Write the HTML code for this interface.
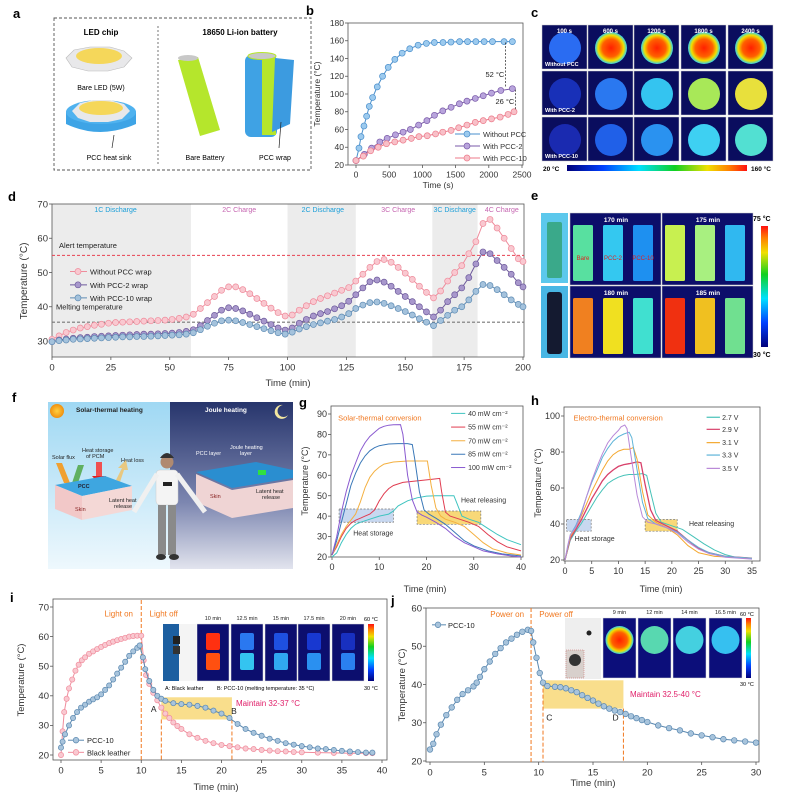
<!DOCTYPE html>
<html><head><meta charset="utf-8">
<style>
html,body{margin:0;padding:0;background:#fff;}
svg{display:block;font-family:"Liberation Sans",sans-serif;}
</style></head>
<body>
<svg id="fig" width="789" height="798" viewBox="0 0 789 798" xmlns="http://www.w3.org/2000/svg">
<defs>
<linearGradient id="cbarH" x1="0" x2="1" y1="0" y2="0">
<stop offset="0" stop-color="#00007a"/><stop offset="0.2" stop-color="#0040ff"/><stop offset="0.4" stop-color="#00e0ff"/><stop offset="0.6" stop-color="#10d020"/><stop offset="0.78" stop-color="#f0e000"/><stop offset="0.9" stop-color="#ff8000"/><stop offset="1" stop-color="#ff1010"/>
</linearGradient>
<linearGradient id="cbarV" x1="0" x2="0" y1="1" y2="0">
<stop offset="0" stop-color="#00007a"/><stop offset="0.2" stop-color="#0040ff"/><stop offset="0.4" stop-color="#00e0ff"/><stop offset="0.6" stop-color="#10d020"/><stop offset="0.78" stop-color="#f0e000"/><stop offset="0.9" stop-color="#ff8000"/><stop offset="1" stop-color="#ff1010"/>
</linearGradient>
<linearGradient id="day" x1="0" x2="0" y1="0" y2="1"><stop offset="0" stop-color="#9fd8f3"/><stop offset="1" stop-color="#eef8fd"/></linearGradient>
<linearGradient id="night" x1="0" x2="0" y1="0" y2="1"><stop offset="0" stop-color="#27356c"/><stop offset="0.6" stop-color="#7c86b0"/><stop offset="1" stop-color="#e2e4ee"/></linearGradient>
<radialGradient id="hotspot"><stop offset="0" stop-color="#ff2000"/><stop offset="0.55" stop-color="#ff6000"/><stop offset="0.8" stop-color="#f0e000"/><stop offset="1" stop-color="#30d0f0"/></radialGradient>
<radialGradient id="sun"><stop offset="0" stop-color="#ffd040"/><stop offset="1" stop-color="#f09010"/></radialGradient>
</defs>

<!-- PANEL A -->
<g>
<text x="13" y="18" font-size="13" font-weight="bold">a</text>
<rect x="54" y="18" width="257" height="152" fill="none" stroke="#555" stroke-dasharray="3,2" stroke-width="0.9"/>
<line x1="158" y1="26" x2="158" y2="164" stroke="#555" stroke-dasharray="2,2" stroke-width="0.8"/>
<text x="101" y="35" font-size="8" font-weight="bold" text-anchor="middle">LED chip</text>
<text x="240" y="35" font-size="8" font-weight="bold" text-anchor="middle">18650 Li-ion battery</text>
<g>
<polygon points="66,58 74,50 90,47 110,47 124,51 132,58 124,67 108,71 88,71 72,67" fill="#e8e8ea" stroke="#bbb" stroke-width="0.6"/>
<ellipse cx="99" cy="56" rx="23" ry="8" fill="#f5d75a"/>
</g>
<text x="101" y="90" font-size="7" text-anchor="middle">Bare LED (5W)</text>
<g>
<path d="M66,112 L66,124 Q100,140 136,124 L136,112 Z" fill="#3ea4e6"/>
<ellipse cx="101" cy="112" rx="35" ry="12" fill="#4fb2ef"/>
<polygon points="72,111 80,103 94,100 110,100 124,104 130,111 122,119 108,122 90,122 78,118" fill="#e8e8ea"/>
<ellipse cx="101" cy="108" rx="22" ry="7" fill="#f5d75a"/>
</g>
<line x1="112" y1="148" x2="114" y2="135" stroke="#222" stroke-width="0.7"/>
<text x="109" y="160" font-size="7" text-anchor="middle">PCC heat sink</text>
<g>
<path d="M178,60 L198,57 L220,130 L200,136 Z" fill="#b5e62c"/>
<ellipse cx="188" cy="58" rx="10" ry="3" fill="#c8c8c8"/>
</g>
<text x="205" y="160" font-size="7" text-anchor="middle">Bare Battery</text>
<g>
<rect x="245" y="55" width="32" height="82" rx="6" fill="#3fa2e4"/>
<rect x="262" y="55" width="14" height="80" fill="#b5e62c"/>
<path d="M275,58 L294,60 L290,124 L272,132 Z" fill="#3c9be0"/>
<ellipse cx="262" cy="56" rx="14" ry="3.5" fill="#c8c8c8" stroke="#b5e62c"/>
</g>
<line x1="279" y1="148" x2="281" y2="122" stroke="#222" stroke-width="0.7"/>
<text x="275" y="160" font-size="7" text-anchor="middle">PCC wrap</text>
</g>

<!-- PANEL C -->
<g id="panelC">
<text x="531" y="17" font-size="13" font-weight="bold">c</text>
<rect x="567" y="165" width="180" height="6" fill="url(#cbarH)"/>
<text x="543" y="171" font-size="6.5" font-weight="bold">20 °C</text>
<text x="751" y="171" font-size="6.5" font-weight="bold">160 °C</text>
</g>

<!-- PANEL E -->
<g id="panelE">
<text x="531" y="200" font-size="13" font-weight="bold">e</text>
<rect x="541" y="213" width="27" height="70" fill="#5cc8ec"/>
<rect x="547" y="222" width="15" height="56" rx="2" fill="#3aa98a"/>
<rect x="541" y="286" width="27" height="72" fill="#48b6e4"/>
<rect x="547" y="292" width="15" height="62" rx="3" fill="#141a30"/>
<rect x="761" y="226" width="7" height="121" fill="url(#cbarV)"/>
<text x="753" y="221" font-size="7" font-weight="bold">75 °C</text>
<text x="753" y="357" font-size="7" font-weight="bold">30 °C</text>
</g>

<!-- PANEL F -->
<g>
<text x="12" y="402" font-size="13" font-weight="bold">f</text>
<rect x="48" y="402" width="122" height="167" fill="url(#day)"/>
<rect x="170" y="402" width="123" height="167" fill="url(#night)"/>
<circle cx="57" cy="411" r="7" fill="url(#sun)"/>
<text x="76" y="412" font-size="6.5" font-weight="bold" fill="#222">Solar-thermal heating</text>
<text x="205" y="412" font-size="6.5" font-weight="bold" fill="#fff">Joule heating</text>
<path d="M283,405 a7,7 0 1 0 5,10 a6,6 0 1 1 -5,-10 Z" fill="#f3e7a0"/>
<text x="82" y="452" font-size="5.5" fill="#222">Heat storage</text>
<text x="86" y="458" font-size="5.5" fill="#222">of PCM</text>
<text x="52" y="459" font-size="5.5" fill="#222">Solar flux</text>
<text x="121" y="462" font-size="5.5" fill="#222">Heat loss</text>
<polygon points="56,463 62,463 70,483 64,483" fill="#f0a030"/>
<polygon points="72,483 78,483 84,465 78,465" fill="#60b060"/>
<rect x="96" y="462" width="6" height="14" fill="#f05050"/>
<polygon points="92,476 106,476 99,484" fill="#e02020"/>
<polygon points="116,480 122,468 118,468 126,460 128,470 124,470 120,482" fill="#e8c880"/>
<polygon points="55,485 105,476 132,486 82,496" fill="#3ea6e0"/>
<polygon points="55,485 82,496 82,520 55,509" fill="#f2c8c8"/>
<polygon points="82,496 132,486 132,510 82,520" fill="#f4d8d6"/>
<text x="78" y="488" font-size="5.5" font-weight="bold" fill="#223">PCC</text>
<text x="75" y="511" font-size="5.5" fill="#822">Skin</text>
<text x="109" y="502" font-size="5.5" fill="#222">Latent heat</text>
<text x="114" y="508" font-size="5.5" fill="#222">release</text>
<text x="196" y="455" font-size="5.5" fill="#fff">PCC layer</text>
<text x="230" y="449" font-size="5.5" fill="#fff">Joule heating</text>
<text x="240" y="455" font-size="5.5" fill="#fff">layer</text>
<polygon points="196,472 256,462 293,470 293,478 232,488" fill="#2a8ed0"/>
<rect x="258" y="470" width="8" height="5" fill="#30e040"/>
<polygon points="196,474 232,490 293,480 293,508 232,518 196,502" fill="#efd4d4"/>
<text x="210" y="498" font-size="5.5" fill="#822">Skin</text>
<text x="256" y="493" font-size="5.5" fill="#222">Latent heat</text>
<text x="262" y="499" font-size="5.5" fill="#222">release</text>
<g>
<circle cx="167" cy="462" r="6.5" fill="#b08a70"/>
<path d="M160,458 q7,-10 14,0 z" fill="#333"/>
<rect x="156" y="470" width="22" height="35" rx="4" fill="#f4f4f4" stroke="#ccc" stroke-width="0.5"/>
<rect x="163" y="482" width="9" height="4" fill="#222"/>
<line x1="157" y1="474" x2="134" y2="512" stroke="#f0f0f0" stroke-width="5"/>
<line x1="177" y1="474" x2="205" y2="512" stroke="#f0f0f0" stroke-width="5"/>
<rect x="158" y="505" width="8" height="50" fill="#8a8a8a"/>
<rect x="168" y="505" width="8" height="50" fill="#8a8a8a"/>
<ellipse cx="161" cy="557" rx="5" ry="3" fill="#333"/>
<ellipse cx="174" cy="557" rx="5" ry="3" fill="#333"/>
</g>
</g>

<!-- INSET I -->
<g>
<rect x="163" y="624" width="33" height="57" fill="#f4f4f4"/>
<rect x="163" y="624" width="16" height="57" fill="#1d5fa0"/>
<rect x="173" y="636" width="7" height="8" fill="#222"/>
<rect x="173" y="646" width="7" height="8" fill="#333"/>
<rect x="368" y="624" width="6" height="57" fill="url(#cbarV)"/>
<text x="364" y="621" font-size="5.5">60 °C</text>
<text x="364" y="690" font-size="5.5">30 °C</text>
<text x="165" y="690" font-size="5.5">A: Black leather</text>
<text x="217" y="690" font-size="5.5">B: PCC-10 (melting temperature: 35 °C)</text>
</g>
<!-- INSET J -->
<g>
<rect x="565" y="618" width="36" height="61" fill="#eeeeee"/>
<rect x="566" y="650" width="18" height="28" fill="#d8d0cc" stroke="#c66" stroke-dasharray="1,1" stroke-width="0.5"/>
<circle cx="575" cy="660" r="6" fill="#333"/>
<circle cx="589" cy="633" r="2.5" fill="#222"/>
<rect x="746" y="618" width="5" height="60" fill="url(#cbarV)"/>
<text x="740" y="616" font-size="5.5">60 °C</text>
<text x="740" y="686" font-size="5.5">30 °C</text>
</g>
</svg>

<script>
// ---------- Panel b data ----------
const bTimeWithout = [0,45,75,120,160,200,250,320,400,485,585,695,810,935,1060,1180,1310,1430,1560,1680,1805,1930,2055,2230,2355];
const bTempWithout = [25,39,52,64,75,86,96,108,120,130,139,146,151,155,157,158,158,158.5,159,159,159,159,159,159,159];
const bTimePCC2 = [0,125,235,359,469,594,709,818,943,1068,1182,1307,1432,1557,1671,1796,1916,2041,2181,2355];
const bTempPCC2 = [25,32,39,46,50,54,57,60,65,70,76,81,85,89,92,95,98,101,104,106];
const bTimePCC10 = [0,110,220,334,459,584,709,833,948,1073,1198,1307,1432,1547,1671,1796,1916,2041,2171,2290,2380];
const bTempPCC10 = [25,30,36,40,44,46,48,50,52,53,55,57,59,62,65,68,70,72,74,77,80];
const bXTicks = [0,500,1000,1500,2000,2500];
const bYTicks = [20,40,60,80,100,120,140,160,180];

// ---------- Panel d data ----------
const dTime = [0,3,6,9,12,15,18,21,24,27,30,33,36,39,42,45,48,51,54,57,60,63,66,69,72,75,78,81,84,87,90,93,96,99,102,105,108,111,114,117,120,123,126,129,132,135,138,141,144,147,150,153,156,159,162,165,168,171,174,177,180,183,186,189,192,195,198,200];
const dWithout = [30.5,31.5,32.5,33.2,33.8,34.2,34.6,34.9,35.2,35.4,35.5,35.6,35.7,35.8,35.9,36.0,36.1,36.3,36.6,37.0,37.8,39.5,41.2,43,44.8,45.8,45.8,45,43.8,42.4,41,39.6,38.3,37.3,37.6,39,40.3,41.5,42.4,43.2,44,44.8,45.6,47.5,49.5,51.5,53.2,53.8,53,51.5,49.8,48,46,44.2,42.6,44.6,47.5,50,52,55.5,59,64.3,65.5,63,60,57,54,53.2];
const dPCC2 = [29.8,30.3,30.6,30.8,31,31.1,31.3,31.4,31.5,31.6,31.7,31.8,31.9,32,32,32.1,32.2,32.3,32.5,32.8,33.3,34.5,36,37.5,39,39.7,39.5,38.8,37.8,36.8,35.8,34.8,33.8,33.2,33.8,35.2,36.3,37.3,38,38.6,39.4,40.3,41.6,43.5,45.5,47.3,47.8,47.2,46,44.5,43,41.5,40,38.5,37,39,41.5,43.5,45.5,48.5,52.5,56,55.5,53.5,51.5,49.5,47,45.8];
const dPCC10 = [29.8,30.1,30.3,30.5,30.6,30.7,30.8,30.9,31,31.1,31.2,31.2,31.3,31.3,31.4,31.5,31.6,31.7,31.8,32,32.4,33.3,34.3,35.2,35.9,36.1,35.9,35.4,34.8,34.2,33.6,33,32.4,32,32.6,33.5,34.2,34.8,35.3,35.8,36.3,37,38,39.5,40.5,41.2,41.4,41,40.3,39.5,38.6,37.6,36.5,35.5,34.5,36,37.5,39,40,42,44.5,46.5,46.2,45,43.5,42,40.7,40];
const dShadeStart = [0,100,161.5];
const dShadeEnd = [59,129,180.7];
const dPhaseLabels = ["1C Discharge","2C Charge","2C Discharge","3C Charge","3C Discharge","4C Charge"];
const dPhaseX = [27,79.5,115,147,171,191];
const dXTicks = [0,25,50,75,100,125,150,175,200];
const dYTicks = [30,40,50,60,70];
const dAlert = 55;
const dMelting = 35.5;

// ---------- Panel g data ----------
const gT100 = [0,1,2,3,4,5,6,7,8,9,10,11,12,13,14.5,15,16,17,18,19,20,22,24,26,28,30,32,35,38,40];
const gV100 = [21,30,42,52,60,66,72,76,79,81,83,84,84.5,84.7,84.8,80,60,48,42,40.5,39.5,37,34,30,27,25,23,21.5,20.5,20];
const gT85 = [0,1,2,3,4,5,6,7,8,9,10,12,14,16,17,17.5,18.5,19.5,20.5,22,24,26,28,30,33,36,40];
const gV85 = [21,28,37,46,55,61,66,69.5,72,73.5,74.5,75.3,75.5,75.5,75,68,52,43,41,39,36,32,28,25.5,23,21.5,20.5];
const gT70 = [0,1,2,3,4,5,6,7,8,9,10,11,13,16,19,20.2,21,22,23,24,26,28,30,32,34,37,40];
const gV70 = [21,26,31,35,38,41,47,54,59,62,64,65.5,66.5,67,67,67,55,44,40,38.5,37,35,31,27,24,22,21];
const gT55 = [0,1,2,3,4,5,6,7,8,9,10,11,12,13,15,17,19,21,22.8,23.2,24,25,27,29,31,33,35,37,40];
const gV55 = [21,25,30,34,36.5,38,39,40,41,43,47.5,51,53.5,55,56.5,57,57.5,58,58.5,52,42,40,38.5,37,35,31,27.5,25,23];
const gT40 = [0,1,2,3,4,5,6,8,10,12,13,14,16,18,20,22,24,25.8,26.5,27.5,29,31,33,35,37,40];
const gV40 = [20,22,27,31,34,36,37,38.5,40,41,42.5,45,47.5,49,49.8,50,50,50,46,40,38.5,37,34,31,28.5,26];
const gLegend = ["40 mW cm⁻²","55 mW cm⁻²","70 mW cm⁻²","85 mW cm⁻²","100 mW cm⁻²"];
const gXTicks = [0,10,20,30,40];
const gYTicks = [20,30,40,50,60,70,80,90];

// ---------- Panel h data ----------
const hT35 = [0,0.5,1,2,3,4,5,6,7,8,9,10,10.5,11.2,11.6,12.5,13.5,14.5,15.5,17,19,21,23,25,27,30,35];
const hV35 = [20,28,34,38,45,55,64,72,79,85,89,92,94,95,93,75,56,44,41,40,38,35,30,26,23.5,21.5,20.5];
const hT33 = [0,1,2,3,4,5,6,7,8,9,10,11,12,12.5,13.5,14.5,15.5,17,19,21,23,25,27,30,35];
const hV33 = [20,34,39,46,55,63,70,77,82,86,88.5,90,91,88,70,52,43,40,38,35.5,31,27,24,22,21];
const hT31 = [0,1,2,3,4,5,6,7,8,9,10,11,12,12.8,13.5,14.5,15.5,17,19,21,23,25,28,35];
const hV31 = [20,33,38,44,51,58,64,70,75,78.5,80.5,81.5,81.5,82.5,76,58,45,41,38,34,28,24,22,21];
const hT29 = [0,1,2,3,4,5,6,7,8,9,10,11,12,13.5,14.2,15,16,17,19,21,23,25,27,30,35];
const hV29 = [20,32,37,42,48,54,59,64,67.5,70,72,73,73.5,74.5,74,62,48,42,39,36,31,26.5,24,22,21];
const hT27 = [0,1,2,3,4,5,6,7,8,9,10,11,12,13,14.5,15.3,16,17,18,20,22,24,26,28,30,32,35];
const hV27 = [20,31,36,40,45,50,55,59,62.5,64.5,66,67,67.5,67.5,68,67,58,46,41,39,37,33,29,25.5,23,21.5,21];
const hLegend = ["2.7 V","2.9 V","3.1 V","3.3 V","3.5 V"];
const hXTicks = [0,5,10,15,20,25,30,35];
const hYTicks = [20,40,60,80,100];

// ---------- Panel i data ----------
const iTimeLeather = [0,0.2,0.4,0.7,1,1.4,1.8,2.2,2.6,3,3.5,4,4.5,5,5.5,6,6.5,7,7.5,8,8.5,9,9.5,10,10.3,10.6,11,11.5,12,12.5,13,13.5,14,14.5,15,16,17,18,19,20,21,22,23,24,25,26,27,28,29,30,32,34,36,38,38.8];
const iTempLeather = [20,28,34.5,39,42.5,45.5,48.5,50.5,52,53,54.2,55,55.8,56.5,57.2,57.8,58.3,58.8,59.2,59.6,60,60.2,60.3,60.3,52,47,44,41,38.5,36,34,32.5,31,29.8,28.8,27,25.8,24.8,24,23.4,23,22.6,22.2,22,21.7,21.5,21.3,21.2,21,20.9,20.8,20.7,20.6,20.6,20.6];
const iTimePCC = [0,0.2,0.5,1,1.5,2,2.5,3,3.5,4,4.5,5,5.5,6,6.5,7,7.5,8,8.5,9,9.5,9.8,10.2,10.5,11,11.5,12,12.5,13,14,15,16,17,18,19,20,21,22,23,24,25,26,27,28,29,30,31,32,33,34,35,36,37,38,38.8];
const iTempPCC = [22.5,24.5,27,30,32.5,34.5,36,37,38,38.8,39.5,40.5,42,43.5,45.5,47.5,49.5,51.5,53.5,55,56.2,57,53,49,45,42,40,39,38.3,37.5,37.2,37,36.6,36,35,34,32.5,30.5,28.8,27.5,26.5,25.5,24.8,24,23.5,23,22.6,22.2,22,21.7,21.4,21.2,21,20.8,20.8];
const iXTicks = [0,5,10,15,20,25,30,35,40];
const iYTicks = [20,30,40,50,60,70];
const iInsetLabels = ["10 min","12.5 min","15 min","17.5 min","20 min"];

// ---------- Panel j data ----------
const jTime = [0,0.3,0.6,1,1.5,2,2.5,3,3.5,4,4.3,4.6,5,5.5,6,6.5,7,7.5,8,8.5,9,9.3,9.5,9.8,10.1,10.4,10.8,11.5,12,12.5,13,13.5,14,14.5,15,15.5,16,16.5,17,17.5,18,18.5,19,19.5,20,21,22,23,24,25,26,27,28,29,30];
const jTemp = [23,24.5,27,29.5,32,34,36,37.5,38.5,39.5,40.5,42,44,46,48,49.5,51,52,53,53.8,54.3,54,51,47,43,40.5,39.6,39.4,39.3,39,38.5,38,37.2,36.5,35.8,35,34.3,33.7,33.2,32.8,32.3,31.7,31.2,30.7,30.2,29.3,28.6,28,27.2,26.7,26.2,25.7,25.4,25.1,24.8];
const jXTicks = [0,5,10,15,20,25,30];
const jYTicks = [20,30,40,50,60];
const jInsetLabels = ["9 min","12 min","14 min","16.5 min"];

// ---------- Panel c/e image data (thermal colours) ----------
const cTimes = ["100 s","600 s","1200 s","1800 s","2400 s"];
const cRowLabels = ["Without PCC","With PCC-2","With PCC-10"];
const cColors = [["#2a6cf2","hot","hot","hot","hot"],["#1830b8","#2a78f0","#34c4f0","#a8e858","#e8e03c"],["#1a2ab0","#2060e8","#2a92f0","#3ed0f2","#52e0d2"]];
const eTimes = ["170 min","175 min","180 min","185 min"];
const eColors = [["#58e0a0","#34c8f0","#1e90f0"],["#c8f050","#a8f080","#30b8f0"],["#f08020","#f0e020","#40e0d0"],["#f03010","#f0c020","#70e090"]];

const NS = 'http://www.w3.org/2000/svg';
const svg = document.getElementById('fig');
function mk(tag, attrs, name, parent) {
  const e = document.createElementNS(NS, tag);
  for (const k in attrs) e.setAttribute(k, attrs[k]);
  
  
  (parent || svg).appendChild(e);
  return e;
}
function tx(x, y, s, name, size, extra, parent) {
  const a = Object.assign({x: x, y: y, 'font-size': size || 9, fill: '#333'}, extra || {});
  const e = mk('text', a, name, parent);
  e.textContent = s;
  return e;
}
function lin(d0, d1, p0, p1) { return v => p0 + (v - d0) / (d1 - d0) * (p1 - p0); }

function axes(p, sx, sy, box, xt, yt, fs) {
  mk('rect', {x: box[0], y: box[1], width: box[2] - box[0], height: box[3] - box[1], fill: 'none', stroke: '#555', 'stroke-width': 0.8}, p + '-plot-frame');
  xt.forEach(v => {
    mk('line', {x1: sx(v), x2: sx(v), y1: box[3], y2: box[3] + 3, stroke: '#555', 'stroke-width': 0.8}, p + '-x-tick');
    tx(sx(v), box[3] + 4 + fs, String(v), p + '-x-tick-label', fs, {'text-anchor': 'middle'});
  });
  yt.forEach(v => {
    mk('line', {x1: box[0] - 3, x2: box[0], y1: sy(v), y2: sy(v), stroke: '#555', 'stroke-width': 0.8}, p + '-y-tick');
    tx(box[0] - 4, sy(v) + fs * 0.35, String(v), p + '-y-tick-label', fs, {'text-anchor': 'end'});
  });
}
function ytitle(x, y, s, name, fs) {
  tx(0, 0, s, name, fs, {'text-anchor': 'middle', transform: 'translate(' + x + ',' + y + ') rotate(-90)'});
}
function series(xs, ys, sx, sy, stroke, fill, r, name, lw) {
  const pts = xs.map((v, i) => sx(v).toFixed(1) + ',' + sy(ys[i]).toFixed(1)).join(' ');
  mk('polyline', {points: pts, fill: 'none', stroke: stroke, 'stroke-width': lw || 1}, name + '-line');
  if (r) xs.forEach((v, i) => {
    mk('circle', {cx: sx(v), cy: sy(ys[i]), r: r, fill: fill, stroke: stroke, 'stroke-width': 0.7}, name + '-point');
  });
}

// ===== Panel b =====
(function(){
  tx(306, 15, 'b', 'panel-label-b', 13, {'font-weight': 'bold', fill: '#000'});
  const sx = lin(0, 2500, 356, 522), sy = lin(20, 180, 165, 23);
  axes('b', sx, sy, [348, 23, 523, 165], bXTicks, bYTicks, 8.5);
  ytitle(320, 94, 'Temperature (°C)', 'b-y-axis-title', 8.5);
  tx(438, 188, 'Time (s)', 'b-x-axis-title', 8.5, {'text-anchor': 'middle'});
  series(bTimeWithout, bTempWithout, sx, sy, '#4a8fcc', '#9ccaee', 3, 'b-series-without-pcc');
  series(bTimePCC2, bTempPCC2, sx, sy, '#7a5aa8', '#b8a4dc', 3, 'b-series-pcc2');
  series(bTimePCC10, bTempPCC10, sx, sy, '#ec7a8a', '#f8c0c8', 3, 'b-series-pcc10');
  mk('line', {x1: sx(2250), x2: sx(2250), y1: sy(158), y2: sy(107), stroke: '#222', 'stroke-dasharray': '2,1.5', 'stroke-width': 0.7}, 'b-52c-arrow');
  mk('line', {x1: sx(2400), x2: sx(2400), y1: sy(105), y2: sy(82), stroke: '#222', 'stroke-dasharray': '2,1.5', 'stroke-width': 0.7}, 'b-26c-arrow');
  tx(sx(1950), sy(119), '52 °C', 'b-52c-label', 7.5, {fill: '#222'});
  tx(sx(2100), sy(89), '26 °C', 'b-26c-label', 7.5, {fill: '#222'});
  const ln = ['Without PCC', 'With PCC-2', 'With PCC-10'], cs = [['#4a8fcc','#9ccaee'],['#7a5aa8','#b8a4dc'],['#ec7a8a','#f8c0c8']];
  ln.forEach((s, i) => {
    const y = 134 + i * 12;
    mk('line', {x1: 455, x2: 480, y1: y, y2: y, stroke: cs[i][0], 'stroke-width': 1}, 'b-legend-line');
    mk('circle', {cx: 467, cy: y, r: 3, fill: cs[i][1], stroke: cs[i][0], 'stroke-width': 0.7}, 'b-legend-marker');
    tx(483, y + 3, s, 'b-legend-entry', 7.5);
  });
})();

// ===== Panel c =====
(function(){
  const g = document.getElementById('panelC');
  const colX = [542, 588, 634, 681, 728], rowY = [25, 71, 117];
  rowY.forEach((y, r) => colX.forEach((x, c) => {
    mk('rect', {x: x, y: y, width: 45, height: 44, fill: '#0a0d5e', stroke: '#ccc', 'stroke-width': 0.5}, 'c-thermal-cell', g);
    const col = cColors[r][c];
    mk('circle', {cx: x + 23, cy: y + 23, r: 16, fill: col === 'hot' ? 'url(#hotspot)' : col}, 'c-thermal-disc', g);
    if (r === 0) tx(x + 22.5, y + 8, cTimes[c], 'c-time-label', 6, {'text-anchor': 'middle', fill: '#fff', 'font-weight': 'bold'}, g);
    if (c === 0) tx(x + 3, y + 41, cRowLabels[r], 'c-row-label', 5.5, {fill: '#fff', 'font-weight': 'bold'}, g);
  }));
})();

// ===== Panel d =====
(function(){
  tx(8, 201, 'd', 'panel-label-d', 13, {'font-weight': 'bold', fill: '#000'});
  const sx = lin(0, 200, 52, 523), sy = lin(30, 70, 341, 204);
  dShadeStart.forEach((s, i) => {
    mk('rect', {x: sx(s), y: 204, width: sx(dShadeEnd[i]) - sx(s), height: 153, fill: '#ececec'}, 'd-phase-shading');
  });
  axes('d', sx, sy, [52, 204, 524, 357], dXTicks, dYTicks, 9.5);
  ytitle(27, 281, 'Temperature (°C)', 'd-y-axis-title', 10);
  tx(288, 386, 'Time (min)', 'd-x-axis-title', 9.5, {'text-anchor': 'middle'});
  dPhaseLabels.forEach((s, i) => {
    tx(sx(dPhaseX[i]), sy(67.6), s, 'd-phase-label', 7, {'text-anchor': 'middle', fill: s.indexOf('Discharge') >= 0 ? '#1a9ed8' : '#c565b0'});
  });
  mk('line', {x1: 52, x2: 524, y1: sy(dAlert), y2: sy(dAlert), stroke: '#e84050', 'stroke-dasharray': '3,2', 'stroke-width': 1.1}, 'd-alert-line');
  mk('line', {x1: 52, x2: 524, y1: sy(dMelting), y2: sy(dMelting), stroke: '#777', 'stroke-dasharray': '3,2', 'stroke-width': 1.1}, 'd-melting-line');
  tx(59, sy(57.2), 'Alert temperature', 'd-alert-label', 7.5, {fill: '#222'});
  tx(56, sy(39.2), 'Melting temperature', 'd-melting-label', 7.5, {fill: '#222'});
  series(dTime, dWithout, sx, sy, '#ef8c9c', '#f9c8d0', 3, 'd-series-without-pcc');
  series(dTime, dPCC2, sx, sy, '#6e5a9c', '#a898cc', 3, 'd-series-pcc2');
  series(dTime, dPCC10, sx, sy, '#5f8cb4', '#a4c2dc', 3, 'd-series-pcc10');
  const ln = ['Without PCC wrap', 'With PCC-2 wrap', 'With PCC-10 wrap'], cs = [['#ef8c9c','#f9c8d0'],['#6e5a9c','#a898cc'],['#5f8cb4','#a4c2dc']], ly = [50.3, 46.4, 42.6];
  ln.forEach((s, i) => {
    const y = sy(ly[i]);
    mk('line', {x1: 70, x2: 87, y1: y, y2: y, stroke: cs[i][0]}, 'd-legend-line');
    mk('circle', {cx: 78, cy: y, r: 3, fill: cs[i][1], stroke: cs[i][0], 'stroke-width': 0.7}, 'd-legend-marker');
    tx(90, y + 3, s, 'd-legend-entry', 7.5, {fill: '#222'});
  });
})();

// ===== Panel e =====
(function(){
  const g = document.getElementById('panelE');
  const px = [570, 662], py = [213, 286], bx = [3, 33, 63];
  eTimes.forEach((t, k) => {
    const x = px[k % 2], y = py[Math.floor(k / 2)];
    mk('rect', {x: x, y: y, width: 91, height: 72, fill: '#0c0e6a', stroke: '#ccc', 'stroke-width': 0.5}, 'e-thermal-panel', g);
    tx(x + 46, y + 9, t, 'e-time-label', 6.5, {'text-anchor': 'middle', fill: '#fff', 'font-weight': 'bold'}, g);
    bx.forEach((b, j) => {
      mk('rect', {x: x + b, y: y + 12, width: 20, height: 56, rx: 1.5, fill: eColors[k][j]}, 'e-battery-thermal', g);
    });
  });
  ['Bare', 'PCC-2', 'PCC-10'].forEach((s, j) => {
    tx(570 + bx[j] + 10, 260, s, 'e-battery-label', 6, {'text-anchor': 'middle', fill: '#e02020'}, g);
  });
})();

// ===== Panel g =====
(function(){
  tx(299, 407, 'g', 'panel-label-g', 13, {'font-weight': 'bold', fill: '#000'});
  const sx = lin(0, 40, 332, 521), sy = lin(20, 90, 557, 414);
  mk('rect', {x: sx(1.5), y: sy(43.5), width: sx(13) - sx(1.5), height: sy(37) - sy(43.5), fill: '#c8d8f0', stroke: '#777', 'stroke-dasharray': '2,1.5', 'stroke-width': 0.7}, 'g-heat-storage-box');
  mk('rect', {x: sx(18), y: sy(42.5), width: sx(31.5) - sx(18), height: sy(36) - sy(42.5), fill: '#f8d878', stroke: '#777', 'stroke-dasharray': '2,1.5', 'stroke-width': 0.7}, 'g-heat-releasing-box');
  axes('g', sx, sy, [331, 406, 523, 557], gXTicks, gYTicks, 9);
  ytitle(308, 481, 'Temperature (°C)', 'g-y-axis-title', 9);
  tx(425, 592, 'Time (min)', 'g-x-axis-title', 9, {'text-anchor': 'middle'});
  const cols = ['#3ec4c0', '#e03c50', '#f4b040', '#3a78b8', '#8a5ad0'];
  series(gT40, gV40, sx, sy, cols[0], null, 0, 'g-series-40mw');
  series(gT55, gV55, sx, sy, cols[1], null, 0, 'g-series-55mw');
  series(gT70, gV70, sx, sy, cols[2], null, 0, 'g-series-70mw');
  series(gT85, gV85, sx, sy, cols[3], null, 0, 'g-series-85mw');
  series(gT100, gV100, sx, sy, cols[4], null, 0, 'g-series-100mw');
  tx(sx(1.3), sy(86.8), 'Solar-thermal conversion', 'g-title', 7.5, {fill: '#f07820'});
  tx(sx(4.5), sy(30.5), 'Heat storage', 'g-heat-storage-label', 7, {fill: '#333'});
  tx(sx(27.3), sy(46.8), 'Heat releasing', 'g-heat-releasing-label', 7, {fill: '#333'});
  const ly = [90.3, 83.6, 76.9, 70.3, 63.8];
  gLegend.forEach((s, i) => {
    mk('line', {x1: sx(25.2), x2: sx(28.2), y1: sy(ly[i]), y2: sy(ly[i]), stroke: cols[i], 'stroke-width': 1}, 'g-legend-line');
    tx(sx(28.8), sy(ly[i]) + 2.5, s, 'g-legend-entry', 7);
  });
})();

// ===== Panel h =====
(function(){
  tx(531, 405, 'h', 'panel-label-h', 13, {'font-weight': 'bold', fill: '#000'});
  const sx = lin(0, 35, 565, 752), sy = lin(20, 100, 560, 416);
  mk('rect', {x: sx(0.3), y: sy(42.5), width: sx(4.9) - sx(0.3), height: sy(36) - sy(42.5), fill: '#c8d8f0', stroke: '#777', 'stroke-dasharray': '2,1.5', 'stroke-width': 0.7}, 'h-heat-storage-box');
  mk('rect', {x: sx(15), y: sy(42.5), width: sx(21) - sx(15), height: sy(36) - sy(42.5), fill: '#f8d878', stroke: '#777', 'stroke-dasharray': '2,1.5', 'stroke-width': 0.7}, 'h-heat-releasing-box');
  axes('h', sx, sy, [564, 407, 760, 561], hXTicks, hYTicks, 9);
  ytitle(541, 483, 'Temperature (°C)', 'h-y-axis-title', 9);
  tx(661, 592, 'Time (min)', 'h-x-axis-title', 9, {'text-anchor': 'middle'});
  const cols = ['#46c2b8', '#d8406a', '#f4a830', '#5eb4d8', '#b888d8'];
  series(hT27, hV27, sx, sy, cols[0], null, 0, 'h-series-2-7v');
  series(hT29, hV29, sx, sy, cols[1], null, 0, 'h-series-2-9v', 1.3);
  series(hT31, hV31, sx, sy, cols[2], null, 0, 'h-series-3-1v');
  series(hT33, hV33, sx, sy, cols[3], null, 0, 'h-series-3-3v');
  series(hT35, hV35, sx, sy, cols[4], null, 0, 'h-series-3-5v');
  tx(sx(1.6), sy(97.5), 'Electro-thermal conversion', 'h-title', 7.5, {fill: '#f07820'});
  tx(sx(1.8), sy(30.5), 'Heat storage', 'h-heat-storage-label', 7, {fill: '#333'});
  tx(sx(23.2), sy(38.8), 'Heat releasing', 'h-heat-releasing-label', 7, {fill: '#333'});
  const ly = [99.3, 92.6, 85.2, 78.3, 70.9];
  hLegend.forEach((s, i) => {
    mk('line', {x1: sx(26.5), x2: sx(29), y1: sy(ly[i]), y2: sy(ly[i]), stroke: cols[i], 'stroke-width': 1.2}, 'h-legend-line');
    tx(sx(29.4), sy(ly[i]) + 2.5, s, 'h-legend-entry', 7);
  });
})();

// ===== Panel i =====
(function(){
  tx(10, 602, 'i', 'panel-label-i', 13, {'font-weight': 'bold', fill: '#000'});
  const sx = lin(0, 40, 61, 382), sy = lin(20, 70, 755, 607);
  mk('rect', {x: sx(12.5), y: sy(39.5), width: sx(21.3) - sx(12.5), height: sy(32) - sy(39.5), fill: '#f8d878', opacity: 0.85}, 'i-maintain-region');
  axes('i', sx, sy, [53, 599, 387, 760], iXTicks, iYTicks, 9.5);
  ytitle(24, 680, 'Temperature (°C)', 'i-y-axis-title', 9.5);
  tx(216, 790, 'Time (min)', 'i-x-axis-title', 9.5, {'text-anchor': 'middle'});
  mk('line', {x1: sx(10), x2: sx(10), y1: 600, y2: 760, stroke: '#f07820', 'stroke-dasharray': '4,2', 'stroke-width': 1}, 'i-light-off-line');
  mk('line', {x1: sx(12.5), x2: sx(12.5), y1: sy(32), y2: 760, stroke: '#f07820', 'stroke-dasharray': '4,2', 'stroke-width': 1}, 'i-point-a-line');
  mk('line', {x1: sx(21.3), x2: sx(21.3), y1: sy(32), y2: 760, stroke: '#f07820', 'stroke-dasharray': '4,2', 'stroke-width': 1}, 'i-point-b-line');
  series(iTimeLeather, iTempLeather, sx, sy, '#f08c9c', '#f9c8d0', 2.6, 'i-series-black-leather');
  series(iTimePCC, iTempPCC, sx, sy, '#5a88b0', '#a8c4dc', 2.6, 'i-series-pcc10');
  tx(sx(7.2), sy(66.8), 'Light on', 'i-light-on-label', 8, {'text-anchor': 'middle', fill: '#f07820'});
  tx(sx(12.8), sy(66.8), 'Light off', 'i-light-off-label', 8, {'text-anchor': 'middle', fill: '#f07820'});
  tx(sx(11.2), sy(34.6), 'A', 'i-point-a-label', 8.5, {fill: '#222'});
  tx(sx(21.2), sy(33.8), 'B', 'i-point-b-label', 8.5, {fill: '#222'});
  tx(sx(21.8), sy(36.6), 'Maintain 32-37 °C', 'i-maintain-label', 8, {fill: '#e0206a'});
  [['PCC-10', '#5a88b0', '#a8c4dc', 25], ['Black leather', '#f08c9c', '#f9c8d0', 20.9]].forEach((l, k) => {
    const y = sy(l[3]);
    mk('line', {x1: 68, x2: 84, y1: y, y2: y, stroke: l[1]}, 'i-legend-line');
    mk('circle', {cx: 76, cy: y, r: 2.8, fill: l[2], stroke: l[1], 'stroke-width': 0.7}, 'i-legend-marker');
    tx(87, y + 3, l[0], 'i-legend-entry', 7.5, {fill: '#222'});
  });
  // inset thermal panels
  const ix = [197, 231, 265, 298, 332];
  const fills = [['#ff3010', '#ff5010'], ['#2a78f0', '#34c4f0'], ['#1e50e0', '#30a8f0'], ['#1838d0', '#2a90f0'], ['#1830c0', '#2a80f0']];
  iInsetLabels.forEach((s, k) => {
    mk('rect', {x: ix[k], y: 624, width: 32, height: 57, fill: '#0c0e6e', stroke: '#ddd', 'stroke-width': 0.5}, 'i-inset-thermal-panel');
    mk('rect', {x: ix[k] + 9, y: 633, width: 14, height: 17, rx: 2, fill: fills[k][0]}, 'i-inset-sample-a');
    mk('rect', {x: ix[k] + 9, y: 653, width: 14, height: 17, rx: 2, fill: fills[k][1]}, 'i-inset-sample-b');
    tx(ix[k] + 16, 620, s, 'i-inset-time-label', 5.5, {'text-anchor': 'middle', fill: '#222'});
  });
})();

// ===== Panel j =====
(function(){
  tx(391, 605, 'j', 'panel-label-j', 13, {'font-weight': 'bold', fill: '#000'});
  const sx = lin(0, 30, 430, 756), sy = lin(20, 60, 761, 608);
  mk('rect', {x: sx(10.4), y: sy(41.1), width: sx(17.8) - sx(10.4), height: sy(33.7) - sy(41.1), fill: '#f8d878', opacity: 0.85}, 'j-maintain-region');
  axes('j', sx, sy, [426, 608, 759, 762], jXTicks, jYTicks, 9.5);
  ytitle(405, 685, 'Temperature (°C)', 'j-y-axis-title', 9.5);
  tx(593, 786, 'Time (min)', 'j-x-axis-title', 9.5, {'text-anchor': 'middle'});
  mk('line', {x1: sx(9.3), x2: sx(9.3), y1: 608, y2: 762, stroke: '#f07820', 'stroke-dasharray': '4,2', 'stroke-width': 1}, 'j-power-off-line');
  mk('line', {x1: sx(10.4), x2: sx(10.4), y1: sy(40.5), y2: 762, stroke: '#f07820', 'stroke-dasharray': '4,2', 'stroke-width': 1}, 'j-point-c-line');
  mk('line', {x1: sx(17.8), x2: sx(17.8), y1: sy(33.7), y2: 762, stroke: '#f07820', 'stroke-dasharray': '4,2', 'stroke-width': 1}, 'j-point-d-line');
  series(jTime, jTemp, sx, sy, '#5a88b0', '#a8c4dc', 2.8, 'j-series-pcc10');
  tx(sx(7.1), sy(57.6), 'Power on', 'j-power-on-label', 8, {'text-anchor': 'middle', fill: '#f07820'});
  tx(sx(11.6), sy(57.6), 'Power off', 'j-power-off-label', 8, {'text-anchor': 'middle', fill: '#f07820'});
  tx(sx(10.7), sy(30.6), 'C', 'j-point-c-label', 8.5, {fill: '#222'});
  tx(sx(16.8), sy(30.6), 'D', 'j-point-d-label', 8.5, {fill: '#222'});
  tx(sx(18.4), sy(36.7), 'Maintain 32.5-40 °C', 'j-maintain-label', 8, {fill: '#e0206a'});
  mk('line', {x1: 432, x2: 446, y1: sy(55.6), y2: sy(55.6), stroke: '#5a88b0'}, 'j-legend-line');
  mk('circle', {cx: 438, cy: sy(55.6), r: 2.8, fill: '#a8c4dc', stroke: '#5a88b0', 'stroke-width': 0.7}, 'j-legend-marker');
  tx(448, sy(55.6) + 3, 'PCC-10', 'j-legend-entry', 7.5, {fill: '#222'});
  const jx = [603, 638, 673, 709];
  const cf = ['url(#hotspot)', '#58d8b0', '#44d0e0', '#36c0f0'];
  jInsetLabels.forEach((s, k) => {
    mk('rect', {x: jx[k], y: 618, width: 33, height: 60, fill: '#0c0e7a', stroke: '#ddd', 'stroke-width': 0.5}, 'j-inset-thermal-panel');
    mk('circle', {cx: jx[k] + 16.5, cy: 640, r: 14, fill: cf[k]}, 'j-inset-thermal-disc');
    tx(jx[k] + 16.5, 614, s, 'j-inset-time-label', 5.5, {'text-anchor': 'middle', fill: '#222'});
  });
})();
</script>
</body></html>
